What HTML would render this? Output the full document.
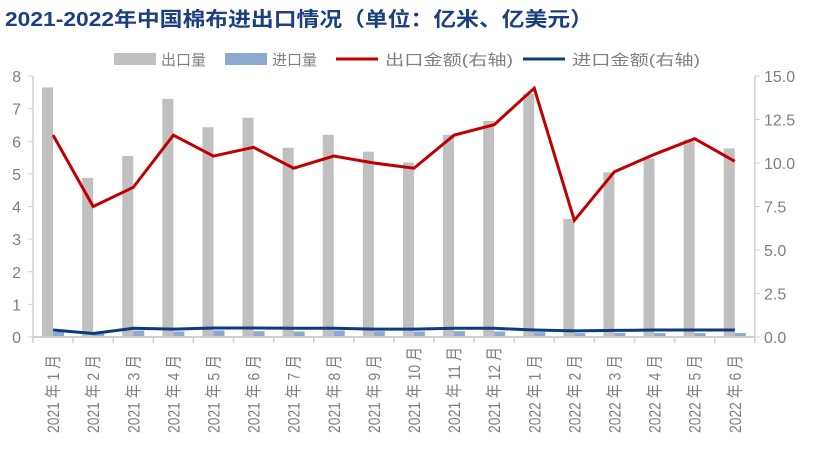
<!DOCTYPE html>
<html><head><meta charset="utf-8"><style>
body{margin:0;background:#fff;}
svg{display:block;font-family:"Liberation Sans","Noto Sans CJK SC",sans-serif;}
</style></head><body>
<svg width="816" height="461" viewBox="0 0 816 461" xmlns="http://www.w3.org/2000/svg">
<text x="5" y="26" font-size="20" font-weight="bold" fill="#1c3f7f" textLength="588" lengthAdjust="spacingAndGlyphs">2021-2022年中国棉布进出口情况（单位：亿米、亿美元）</text>
<rect x="114" y="53" width="42" height="12" fill="#c0c0c0"/>
<text x="161" y="65" font-size="15" fill="#808080" textLength="45" lengthAdjust="spacingAndGlyphs">出口量</text>
<rect x="225" y="53" width="42" height="12" fill="#8ea9cf"/>
<text x="272" y="65" font-size="15" fill="#808080" textLength="45" lengthAdjust="spacingAndGlyphs">进口量</text>
<line x1="336" y1="59" x2="378" y2="59" stroke="#c00000" stroke-width="3"/>
<text x="385" y="65" font-size="15" fill="#808080" textLength="128" lengthAdjust="spacingAndGlyphs">出口金额(右轴)</text>
<line x1="523" y1="59" x2="565" y2="59" stroke="#0d3a80" stroke-width="3"/>
<text x="572" y="65" font-size="15" fill="#808080" textLength="128" lengthAdjust="spacingAndGlyphs">进口金额(右轴)</text>
<g id="chart"></g>
</svg>
<script>
const g=document.getElementById('chart');const NS='http://www.w3.org/2000/svg';
function el(t,a,txt){const e=document.createElementNS(NS,t);for(const k in a)e.setAttribute(k,a[k]);if(txt!==undefined)e.textContent=txt;g.appendChild(e);return e;}
const y0=337,yTop=76,H=y0-yTop;
const yl=v=>y0-v/8*H, yr=v=>y0-v/15*H;
const ex=[7.65,4.88,5.55,7.3,6.43,6.72,5.8,6.2,5.68,5.35,6.2,6.62,7.45,3.62,5.05,5.47,6.05,5.78];
const im=[0.15,0.1,0.2,0.17,0.2,0.18,0.17,0.2,0.18,0.17,0.18,0.17,0.15,0.12,0.13,0.12,0.12,0.12];
const er=[11.6,7.5,8.6,11.6,10.4,10.9,9.7,10.4,10.0,9.7,11.6,12.2,14.3,6.7,9.5,10.5,11.4,10.1];
const ir=[0.4,0.2,0.5,0.45,0.52,0.52,0.5,0.5,0.45,0.45,0.5,0.5,0.4,0.35,0.38,0.4,0.4,0.4];
const x0=33,w=40.1;
for(let i=0;i<18;i++){const c=x0+w*i+w/2;
 el('rect',{x:c-11,y:yl(ex[i]),width:11,height:y0-yl(ex[i]),fill:'#c0c0c0'});
 el('rect',{x:c,y:yl(im[i]),width:11,height:y0-yl(im[i]),fill:'#8ea9cf'});
 const two=(i<12?i+1:i-11)>=10;
 const lab=(i<12?'2021 年 '+(i+1):'2022 年 '+(i-11))+' 月';
 el('text',{x:0,y:0,transform:`translate(${c+6},${433}) rotate(-90)`,'font-size':17,fill:'#7f7f7f',textLength:two?86:78,lengthAdjust:'spacingAndGlyphs'},lab);
}
el('line',{x1:x0,y1:y0,x2:x0+w*18,y2:y0,stroke:'#d0d0d0','stroke-width':2});
for(let i=0;i<=18;i++)el('line',{x1:x0+w*i,y1:y0,x2:x0+w*i,y2:y0+6,stroke:'#d0d0d0','stroke-width':1.5});
el('line',{x1:x0,y1:yTop,x2:x0,y2:y0,stroke:'#d0d0d0','stroke-width':1.5});
el('line',{x1:x0+w*18,y1:yTop,x2:x0+w*18,y2:y0,stroke:'#d0d0d0','stroke-width':1.5});
for(let v=0;v<=8;v++){el('text',{x:21,y:yl(v)+6,'font-size':16,fill:'#7f7f7f','text-anchor':'end'},v);el('line',{x1:x0-5,y1:yl(v),x2:x0,y2:yl(v),stroke:'#d0d0d0'});}
for(let v=0;v<=15;v+=2.5){el('text',{x:764,y:yr(v)+6,'font-size':16,fill:'#7f7f7f'},v.toFixed(1));el('line',{x1:x0+w*18,y1:yr(v),x2:x0+w*18+5,y2:yr(v),stroke:'#d0d0d0'});}
const pts=a=>a.map((v,i)=>(x0+w*i+w/2)+','+yr(v)).join(' ');
el('polyline',{points:pts(ir),fill:'none',stroke:'#0d3a80','stroke-width':3});
el('polyline',{points:pts(er),fill:'none',stroke:'#c00000','stroke-width':3});
</script>
</body></html>
